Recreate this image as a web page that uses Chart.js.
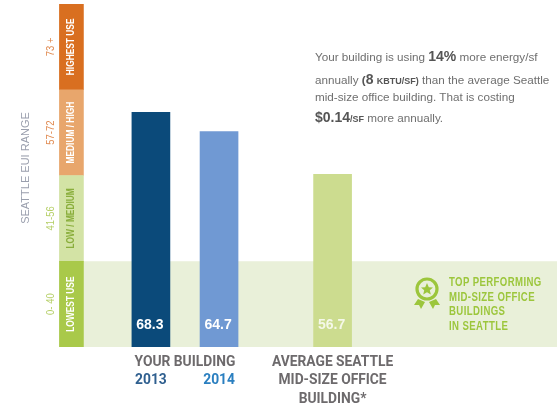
<!DOCTYPE html>
<html>
<head>
<meta charset="utf-8">
<script src="https://cdn.jsdelivr.net/npm/chart.js@4"></script>
<style>
  html, body { margin: 0; background: #fff; }
  #wrap { position: relative; width: 557px; height: 406px; overflow: hidden; }
  canvas { position: absolute; left: 0; top: 0; }
  .note { position: absolute; left: 315px; white-space: nowrap; font: 11.7px "Liberation Sans", sans-serif; color: #6f6f6f; }
  .note b { color: #555; font-weight: bold; }
  .note .big { font-size: 14px; }
  .note .small { font-size: 9px; }
  .top { position: absolute; left: 449px; white-space: nowrap; font: bold 12px "Liberation Sans", sans-serif; letter-spacing: .5px; color: #9cc63c; transform: scaleX(.8); transform-origin: left top; }
  svg { position: absolute; left: 413px; top: 276px; }
</style>
</head>
<body>
<div id="wrap">
  <canvas id="euiChart" width="557" height="406"></canvas>
  <div class="note" style="top:48px">Your building is using <b class="big">14%</b> more energy/sf</div>
  <div class="note" style="top:71px">annually <b>(<span class="big">8</span> <span class="small">KBTU/SF)</span></b> than the average Seattle</div>
  <div class="note" style="top:90px">mid-size office building. That is costing</div>
  <div class="note" style="top:109px"><b class="big">$0.14</b><b class="small">/SF</b> more annually.</div>
  <div class="top" style="top:275px">TOP PERFORMING</div>
  <div class="top" style="top:290px">MID-SIZE OFFICE</div>
  <div class="top" style="top:304px">BUILDINGS</div>
  <div class="top" style="top:319px">IN SEATTLE</div>
  <svg width="30" height="36" viewBox="0 0 30 36">
    <path d="M5 23 L1 29 L6 29 L8 33 L12 26 Z M23 23 L27 29 L22 29 L20 33 L16 26 Z" fill="#9cc63c"/>
    <circle cx="14" cy="13" r="10" fill="none" stroke="#9cc63c" stroke-width="3.2"/>
    <path d="M14 7 L15.8 11.2 L20 11.5 L16.8 14.3 L17.8 18.5 L14 16.2 L10.2 18.5 L11.2 14.3 L8 11.5 L12.2 11.2 Z" fill="#9cc63c"/>
  </svg>
</div>
<script>
const slotCount = 44;
const bandSlot = 1;
const barSlots = [8, 14, 24];
const euiValues = [68.3, 64.7, 56.7];
const barColors = ["#0b4a7a", "#7099d3", "#ccdc8f"];

// x tick text, the empty slots only space the bars out
const tickSlots = [8, 11, 14, 24];
const tickLabels = [["", "2013"], ["YOUR BUILDING"], ["", "2014"], ["AVERAGE SEATTLE", "MID-SIZE OFFICE", "BUILDING*"]];
const tickColors = ["#2f5f8f", "#6d6a6c", "#2a7fc0", "#6d6a6c"];

// the axis is not linear: each EUI range gets the same height
const rangeEdges = [0, 40.5, 56.5, 72.5, 88.5];
const rangeLabels = ["0- 40", "41-56", "57-72", "73 +"];
const bandNames = ["LOWEST USE", "LOW / MEDIUM", "MEDIUM / HIGH", "HIGHEST USE"];
const bandColors = ["#a9c94a", "#d3e3a5", "#e8a66c", "#d96f20"];
const bandTextColors = ["#ffffff", "#8aae3c", "#ffffff", "#ffffff"];
const rangeTextColors = ["#b5cf66", "#b5cf66", "#e08a50", "#e08a50"];
const axisTitle = "SEATTLE EUI RANGE";

function toBandPos(eui) {
  for (let i = 0; i < rangeEdges.length - 1; i++) {
    if (eui <= rangeEdges[i + 1]) {
      return i + (eui - rangeEdges[i]) / (rangeEdges[i + 1] - rangeEdges[i]);
    }
  }
  return rangeEdges.length - 1;
}

const categories = Array(slotCount).fill("");
tickSlots.forEach((slot, i) => { categories[slot] = tickLabels[i]; });

const barData = Array(slotCount).fill(null);
barSlots.forEach((slot, i) => { barData[slot] = toBandPos(euiValues[i]); });

const slotColors = Array(slotCount).fill("#fff");
barSlots.forEach((slot, i) => { slotColors[slot] = barColors[i]; });

const tickColorBySlot = Array(slotCount).fill("#6d6a6c");
tickSlots.forEach((slot, i) => { tickColorBySlot[slot] = tickColors[i]; });

const bandDatasets = bandColors.map((color, i) => {
  const data = Array(slotCount).fill(null);
  data[bandSlot] = [i, i + 1];
  return { data, backgroundColor: color, barThickness: 24, grouped: false };
});

function rotatedText(ctx, text, x, y, font, color, squeeze) {
  ctx.save();
  ctx.translate(x, y);
  ctx.rotate(-Math.PI / 2);
  ctx.scale(squeeze, 1);
  ctx.font = font;
  ctx.fillStyle = color;
  ctx.textAlign = "center";
  ctx.textBaseline = "middle";
  ctx.fillText(text, 0, 0);
  ctx.restore();
}

const lowestBandPlugin = {
  id: "lowestBand",
  beforeDatasetsDraw(chart) {
    const { ctx, scales } = chart;
    const left = scales.x.getPixelForValue(bandSlot);
    const top = scales.y.getPixelForValue(1);
    ctx.save();
    ctx.fillStyle = "#e9f0d9";
    ctx.fillRect(left, top, 557 - left, scales.y.getPixelForValue(0) - top);
    ctx.restore();
  }
};

const labelsPlugin = {
  id: "labels",
  afterDatasetsDraw(chart) {
    const { ctx, scales } = chart;
    const bandX = scales.x.getPixelForValue(bandSlot);

    bandNames.forEach((name, i) => {
      const y = scales.y.getPixelForValue(i + 0.5);
      rotatedText(ctx, name, bandX, y, 'bold 11px "Liberation Sans"', bandTextColors[i], 0.76);
      rotatedText(ctx, rangeLabels[i], 51, y, '10.5px "Liberation Sans"', rangeTextColors[i], 0.9);
    });

    rotatedText(ctx, axisTitle, 26, 168, '11px "Liberation Sans"', "#9a9fad", 1);

    ctx.save();
    ctx.font = 'bold 14px "Liberation Sans"';
    ctx.fillStyle = "#fff";
    ctx.textAlign = "center";
    ctx.textBaseline = "middle";
    barSlots.forEach((slot, i) => {
      ctx.globalAlpha = i === 2 ? 0.8 : 1;
      ctx.fillText(euiValues[i].toFixed(1), scales.x.getPixelForValue(slot) - 1, 325);
    });
    ctx.restore();
  }
};

new Chart(document.getElementById("euiChart"), {
  type: "bar",
  data: {
    labels: categories,
    datasets: [
      ...bandDatasets,
      { data: barData, backgroundColor: slotColors, barThickness: 38, grouped: false }
    ]
  },
  plugins: [lowestBandPlugin, labelsPlugin],
  options: {
    responsive: false,
    animation: false,
    layout: { padding: { left: 54.4, right: 3, top: 4, bottom: 0 } },
    plugins: { legend: { display: false }, tooltip: { enabled: false } },
    scales: {
      x: {
        grid: { display: false, drawTicks: false },
        border: { display: false },
        afterFit: (scale) => { scale.height = 59; },
        ticks: {
          autoSkip: false,
          maxRotation: 0,
          padding: 6,
          color: (c) => tickColorBySlot[c.index],
          font: { family: "Roboto", weight: "bold", size: 13.8, lineHeight: 1.34 }
        }
      },
      y: { display: false, min: 0, max: 4 }
    }
  }
});
</script>
</body>
</html>
